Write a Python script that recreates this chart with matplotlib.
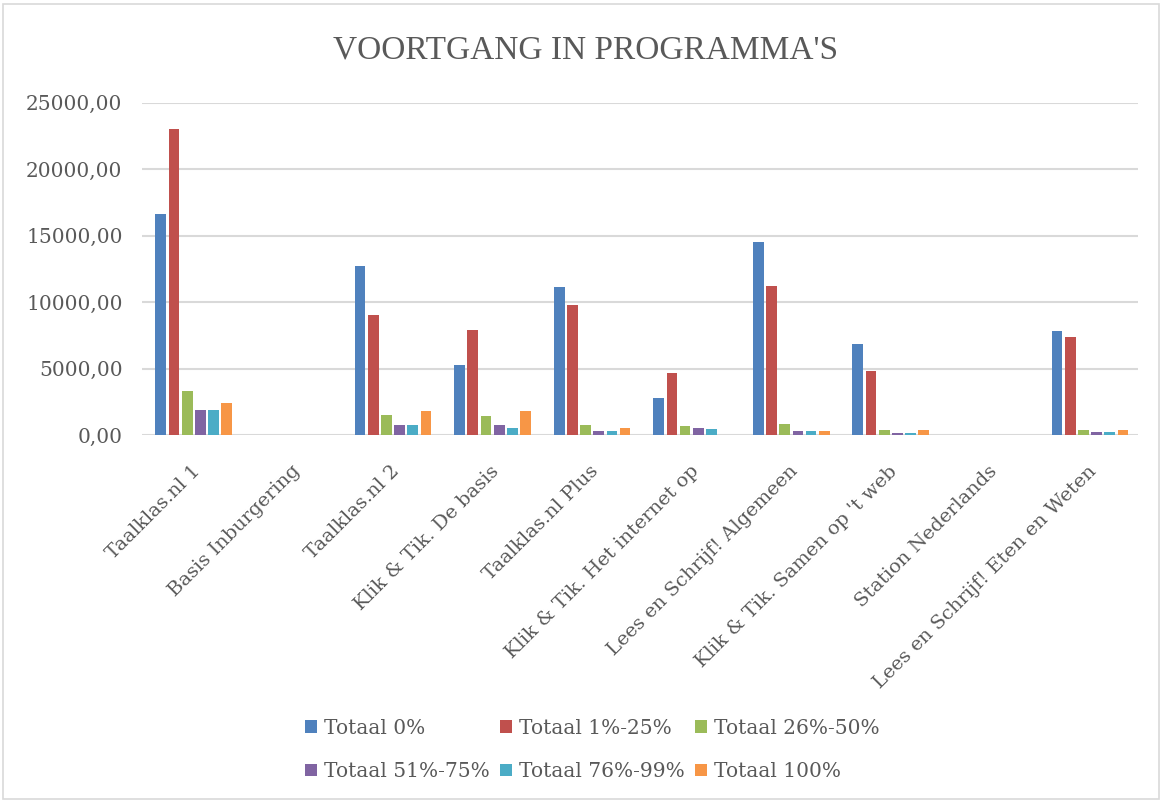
import numpy as np
import matplotlib
matplotlib.use('Agg')
import matplotlib.pyplot as plt
from matplotlib.patches import Rectangle

programmas = ['Taalklas.nl 1', 'Basis Inburgering', 'Taalklas.nl 2', 'Klik & Tik. De basis',
              'Taalklas.nl Plus', 'Klik & Tik. Het internet op', 'Lees en Schrijf! Algemeen',
              "Klik & Tik. Samen op 't web", 'Station Nederlands', 'Lees en Schrijf! Eten en Weten']

totaal_0 = [16620, 0, 12740, 5290, 11140, 2780, 14490, 6860, 0, 7790]
totaal_1_25 = [23000, 0, 9010, 7910, 9790, 4630, 11240, 4830, 0, 7410]
totaal_26_50 = [3330, 0, 1530, 1430, 730, 650, 850, 400, 0, 380]
totaal_51_75 = [1900, 0, 730, 730, 280, 550, 300, 170, 0, 250]
totaal_76_99 = [1900, 0, 730, 550, 280, 450, 300, 170, 0, 250]
totaal_100 = [2380, 0, 1780, 1800, 500, 0, 300, 400, 0, 380]

reeksen = ['Totaal 0%', 'Totaal 1%-25%', 'Totaal 26%-50%',
           'Totaal 51%-75%', 'Totaal 76%-99%', 'Totaal 100%']
kleuren = ['#4F81BD', '#C0504D', '#9BBB59', '#8064A2', '#4BACC6', '#F79646']
waarden = [totaal_0, totaal_1_25, totaal_26_50, totaal_51_75, totaal_76_99, totaal_100]

serif = ['DejaVu Serif']
tekst = '#595959'

fig = plt.figure(figsize=(11.62, 8.01), dpi=100)
ax = fig.add_axes([0.1222, 0.4569, 0.857, 0.4149])

x = np.arange(len(programmas))
slot = 0.1325
for i, (naam, w, k) in enumerate(zip(reeksen, waarden, kleuren)):
    ax.bar(x + (i - 2.5) * slot + 0.02, w, width=0.108, color=k, label=naam, zorder=3)

ax.set_xlim(-0.5, len(programmas) - 0.5)
ax.set_ylim(0, 25000)
ax.set_yticks(np.arange(0, 25001, 5000))
ax.set_yticklabels([('%.2f' % v).replace('.', ',') for v in np.arange(0, 25001, 5000)],
                   fontsize=14.5, color=tekst, family=serif)
ax.set_xticks(x + 0.06)
ax.set_xticklabels(programmas, rotation=45, ha='right', va='center', rotation_mode='anchor',
                   fontsize=14, color=tekst, family=serif)
ax.tick_params(axis='both', length=0)
ax.tick_params(axis='y', pad=14)
ax.tick_params(axis='x', pad=24)
ax.grid(axis='y', color='#D9D9D9', linewidth=1.5, zorder=0)
for s in ax.spines.values():
    s.set_visible(False)

fig.text(0.504, 1 - 50 / 801, "VOORTGANG IN PROGRAMMA'S", ha='center', va='center',
         fontsize=24, color=tekst, family=['Liberation Serif'])

h, l = ax.get_legend_handles_labels()
orde = [0, 3, 1, 4, 2, 5]
fig.legend([h[i] for i in orde], [l[i] for i in orde], ncol=3, loc='center',
           bbox_to_anchor=(0.51, 1 - 750 / 801), frameon=False,
           prop={'family': serif, 'size': 14.5}, labelcolor=tekst,
           handlelength=0.6, handleheight=0.6, handletextpad=0.35,
           columnspacing=0.5, labelspacing=1.2)

fig.patches.append(Rectangle((0.003, 0.003), 0.994, 0.992, transform=fig.transFigure,
                             fill=False, edgecolor='#D9D9D9', linewidth=1.2))

fig.savefig('out.png', dpi=100)
